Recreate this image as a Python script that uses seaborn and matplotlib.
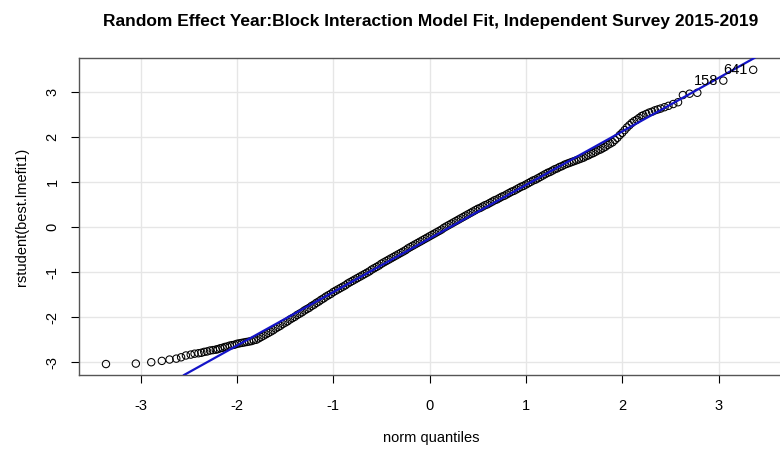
import matplotlib
matplotlib.use("Agg")
import matplotlib.pyplot as plt
import seaborn as sns
import pandas as pd

# theoretical normal quantiles (x) and studentized residuals (y)
lower_q = [-3.36, -3.05, -2.89, -2.78, -2.70, -2.63, -2.58, -2.53, -2.48, -2.44,
           -2.40, -2.37, -2.34, -2.31, -2.28, -2.25, -2.22]
lower_r = [-3.04, -3.03, -3.00, -2.97, -2.94, -2.92, -2.89, -2.85, -2.83, -2.81,
           -2.80, -2.79, -2.77, -2.76, -2.74, -2.73, -2.72]

mid_q = [-2.200, -2.175, -2.150, -2.125, -2.100, -2.075, -2.050, -2.025, -2.000, -1.975,
         -1.950, -1.925, -1.900, -1.875, -1.850, -1.825, -1.800, -1.775, -1.750, -1.725,
         -1.700, -1.675, -1.650, -1.625, -1.600, -1.575, -1.550, -1.525, -1.500, -1.475,
         -1.450, -1.425, -1.400, -1.375, -1.350, -1.325, -1.300, -1.275, -1.250, -1.225,
         -1.200, -1.175, -1.150, -1.125, -1.100, -1.075, -1.050, -1.025, -1.000, -0.975,
         -0.950, -0.925, -0.900, -0.875, -0.850, -0.825, -0.800, -0.775, -0.750, -0.725,
         -0.700, -0.675, -0.650, -0.625, -0.600, -0.575, -0.550, -0.525, -0.500, -0.475,
         -0.450, -0.425, -0.400, -0.375, -0.350, -0.325, -0.300, -0.275, -0.250, -0.225,
         -0.200, -0.175, -0.150, -0.125, -0.100, -0.075, -0.050, -0.025, 0.000, 0.025,
         0.050, 0.075, 0.100, 0.125, 0.150, 0.175, 0.200, 0.225, 0.250, 0.275,
         0.300, 0.325, 0.350, 0.375, 0.400, 0.425, 0.450, 0.475, 0.500, 0.525,
         0.550, 0.575, 0.600, 0.625, 0.650, 0.675, 0.700, 0.725, 0.750, 0.775,
         0.800, 0.825, 0.850, 0.875, 0.900, 0.925, 0.950, 0.975, 1.000, 1.025,
         1.050, 1.075, 1.100, 1.125, 1.150, 1.175, 1.200, 1.225, 1.250, 1.275,
         1.300, 1.325, 1.350, 1.375, 1.400, 1.425, 1.450, 1.475, 1.500, 1.525,
         1.550, 1.575, 1.600, 1.625, 1.650, 1.675, 1.700, 1.725, 1.750, 1.775,
         1.800, 1.825, 1.850, 1.875, 1.900, 1.925, 1.950, 1.975, 2.000, 2.025,
         2.050, 2.075, 2.100, 2.125, 2.150, 2.175, 2.200]
mid_r = [-2.71, -2.69, -2.68, -2.66, -2.65, -2.63, -2.62, -2.61, -2.59, -2.58,
         -2.57, -2.56, -2.55, -2.54, -2.53, -2.51, -2.50, -2.47, -2.44, -2.41,
         -2.38, -2.35, -2.32, -2.29, -2.25, -2.22, -2.19, -2.15, -2.12, -2.09,
         -2.05, -2.02, -1.99, -1.95, -1.92, -1.89, -1.85, -1.82, -1.79, -1.75,
         -1.72, -1.68, -1.65, -1.61, -1.58, -1.54, -1.51, -1.48, -1.44, -1.41,
         -1.38, -1.35, -1.32, -1.29, -1.25, -1.22, -1.19, -1.16, -1.13, -1.10,
         -1.07, -1.04, -1.01, -0.98, -0.94, -0.91, -0.88, -0.85, -0.81, -0.78,
         -0.75, -0.72, -0.69, -0.66, -0.63, -0.60, -0.57, -0.54, -0.51, -0.47,
         -0.44, -0.41, -0.38, -0.35, -0.32, -0.29, -0.26, -0.23, -0.20, -0.17,
         -0.14, -0.11, -0.08, -0.05, -0.01, 0.02, 0.05, 0.08, 0.11, 0.14,
         0.17, 0.20, 0.23, 0.26, 0.29, 0.32, 0.35, 0.38, 0.41, 0.43,
         0.46, 0.49, 0.51, 0.54, 0.57, 0.60, 0.62, 0.65, 0.68, 0.70,
         0.73, 0.76, 0.79, 0.81, 0.84, 0.87, 0.90, 0.92, 0.95, 0.98,
         1.01, 1.04, 1.06, 1.09, 1.12, 1.15, 1.18, 1.21, 1.23, 1.26,
         1.29, 1.31, 1.34, 1.36, 1.39, 1.41, 1.43, 1.45, 1.47, 1.49,
         1.51, 1.53, 1.55, 1.58, 1.60, 1.63, 1.65, 1.68, 1.71, 1.73,
         1.76, 1.79, 1.83, 1.86, 1.89, 1.94, 1.99, 2.05, 2.10, 2.16,
         2.22, 2.27, 2.32, 2.36, 2.39, 2.43, 2.47]

upper_q = [2.22, 2.25, 2.28, 2.31, 2.34, 2.37, 2.40, 2.44, 2.48, 2.53,
           2.58, 2.63, 2.70, 2.78, 3.05, 3.36]
upper_r = [2.49, 2.52, 2.55, 2.57, 2.60, 2.62, 2.64, 2.67, 2.70, 2.74,
           2.78, 2.94, 2.97, 2.99, 3.26, 3.50]

# observation ids labelled by qqPlot (the two largest residuals)
outlier_ids = ["158", "641"]

# reference line through the quartiles
line_intercept = -0.25
line_slope = 1.19

ticks = [-3, -2, -1, 0, 1, 2, 3]

df = pd.DataFrame({
    "q": lower_q + mid_q + upper_q,
    "r": lower_r + mid_r + upper_r,
})

sns.set_style("white")
plt.rcParams["font.family"] = ["Liberation Sans", "DejaVu Sans"]
plt.rcParams["text.color"] = "black"
plt.rcParams["axes.labelcolor"] = "black"
plt.rcParams["xtick.color"] = "black"
plt.rcParams["ytick.color"] = "black"

fig = plt.figure(figsize=(7.8, 4.55), dpi=100)
ax = fig.add_axes([0.1013, 0.1752, 0.9026, 0.698])

for t in ticks:
    ax.axvline(t, color="#e6e6e6", lw=1, zorder=0)
    ax.axhline(t, color="#e6e6e6", lw=1, zorder=0)

sns.scatterplot(data=df, x="q", y="r", ax=ax, marker="o", s=28,
                facecolor="none", edgecolor="black", linewidth=0.75, zorder=2)

ax.axline((0, line_intercept), slope=line_slope, color="#1414c8", lw=1.6, zorder=3)

for lab, qx, ry in zip(outlier_ids, upper_q[-2:], upper_r[-2:]):
    ax.annotate(lab, (qx, ry), xytext=(-4, 0), textcoords="offset points",
                ha="right", va="center", fontsize=10.5, color="black")

ax.set_xlim(-3.64, 3.67)
ax.set_ylim(-3.29, 3.77)
ax.set_xticks(ticks)
ax.set_yticks(ticks)
ax.set_xticklabels([str(t) for t in ticks])
ax.set_yticklabels([str(t) for t in ticks], rotation=90, va="center")
ax.tick_params(axis="both", direction="out", length=6, width=0.8, color="black",
               labelsize=10.5, labelcolor="black", bottom=True, left=True)
ax.tick_params(axis="x", pad=11)
ax.tick_params(axis="y", pad=8)
ax.spines["right"].set_visible(False)
for s in ["left", "bottom", "top"]:
    ax.spines[s].set_color("#555555")
    ax.spines[s].set_linewidth(1)

ax.set_xlabel("norm quantiles", fontsize=10.5, labelpad=13)
ax.set_ylabel("rstudent(best.lmefit1)", fontsize=10.5, labelpad=12)
ax.set_title("Random Effect Year:Block Interaction Model Fit, Independent Survey 2015-2019",
             fontsize=12.5, fontweight="bold", pad=23, color="black")

fig.savefig("out.png", dpi=100)
